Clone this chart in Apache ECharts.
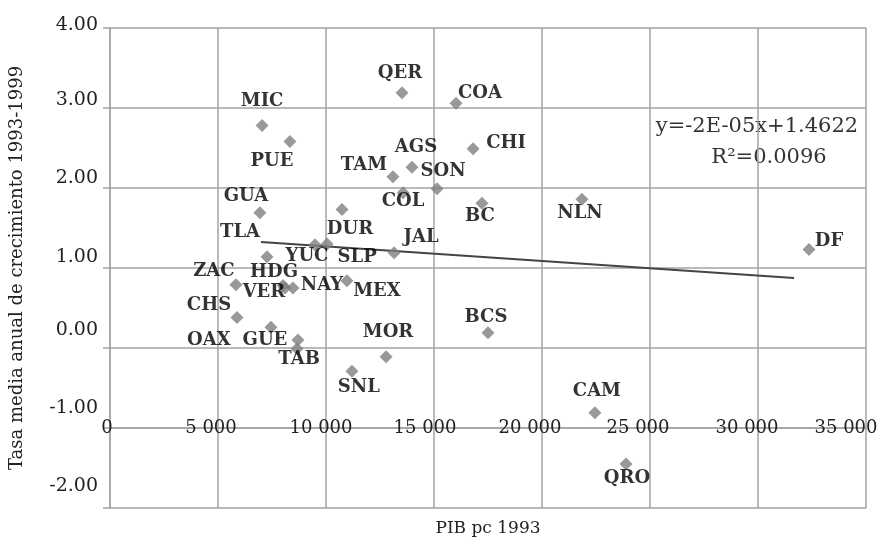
<!DOCTYPE html>
<html>
<head>
<meta charset="utf-8">
<script src="https://cdn.jsdelivr.net/npm/echarts@6/dist/echarts.min.js"></script>
<style>
  html, body { margin: 0; padding: 0; background: #fff; }
  #chart { width: 877px; height: 538px; }
</style>
</head>
<body>
<div id="chart"></div>
<script>
// estados y valores
const estados = ['MIC', 'PUE', 'GUA', 'TLA', 'YUC', 'SLP', 'DUR', 'ZAC', 'HDG', 'VER', 'NAY', 'MEX',
  'CHS', 'OAX', 'GUE', 'TAB', 'SNL', 'MOR', 'BCS', 'CAM', 'QRO', 'DF', 'NLN', 'QER',
  'COA', 'CHI', 'AGS', 'TAM', 'SON', 'COL', 'BC', 'JAL'];
const pib1993 = [7040, 8330, 6940, 7270, 9490, 10050, 10740, 5830, 8010, 8100, 8470, 10970,
  5880, 7450, 8700, 8660, 11200, 12780, 17500, 22450, 23890, 32360, 21850, 13520,
  16020, 16810, 13980, 13100, 15140, 13570, 17220, 13150];
const tasa9399 = [2.78, 2.58, 1.69, 1.14, 1.29, 1.30, 1.73, 0.79, 0.78, 0.75, 0.75, 0.84,
  0.38, 0.26, 0.10, -0.01, -0.29, -0.11, 0.19, -0.81, -1.45, 1.23, 1.86, 3.19,
  3.06, 2.49, 2.26, 2.14, 1.99, 1.94, 1.81, 1.19];

// linea de tendencia (extremos leidos)
const tendenciaX = [6990, 31670];
const tendenciaY = [1.325, 0.875];

const yTicks = ['-2.00', '-1.00', '0.00', '1.00', '2.00', '3.00', '4.00'];
const xTicks = ['0', '5 000', '10 000', '15 000', '20 000', '25 000', '30 000', '35 000'];

// posicion de cada etiqueta respecto al rombo (px)
const etiquetaOffset = {
  MIC: [0, -24], PUE: [-18, 20], GUA: [-14, -16], TLA: [-27, -24], YUC: [-8, 12], SLP: [30, 13],
  DUR: [8, 20], ZAC: [-22, -13], HDG: [-9, -13], VER: [-21, 4], NAY: [29, -3], MEX: [30, 11],
  CHS: [-28, -12], OAX: [-62, 13], GUE: [-33, 0], TAB: [2, 11], SNL: [7, 16], MOR: [2, -24],
  BCS: [-2, -15], CAM: [2, -21], QRO: [1, 14], DF: [20, -8], NLN: [-2, 14], QER: [-2, -19],
  COA: [24, -10], CHI: [33, -5], AGS: [4, -20], TAM: [-29, -11], SON: [6, -17], COL: [0, 9],
  BC: [-2, 13], JAL: [27, -15]
};
// las etiquetas de los ejes no caen justo en las lineas (px)
const ySubida = [22, 20, 18, 11, 10, 8, 3];
const xIzq = [3, 7, 5, 9, 12, 12, 11, 20];

const chart = echarts.init(document.getElementById('chart'));

const puntos = estados.map((e, i) => ({
  name: e,
  value: [pib1993[i], tasa9399[i]],
  label: { offset: etiquetaOffset[e] }
}));

const richY = {};
ySubida.forEach((s, i) => {
  richY['t' + i] = { fontFamily: 'DejaVu Serif', fontSize: 19, color: '#222', padding: [0, 0, 2 * s, 0] };
});
const richX = {};
xIzq.forEach((s, i) => {
  richX['t' + i] = { fontFamily: 'DejaVu Serif', fontSize: 18, color: '#222', padding: [0, 2 * s, 0, 0] };
});

const gris = '#a3a3a3';

const option = {
  animation: false,
  backgroundColor: '#fff',
  textStyle: { fontFamily: 'DejaVu Serif' },
  grid: { left: 110, right: 11, top: 28, bottom: 30, containLabel: false, outerBoundsMode: 'none' },
  xAxis: {
    type: 'value',
    min: 0,
    max: 35000,
    interval: 5000,
    position: 'bottom',
    offset: -80,
    name: 'PIB pc 1993',
    nameLocation: 'middle',
    nameGap: 92,
    nameTextStyle: { fontFamily: 'DejaVu Serif', fontSize: 17, color: '#222' },
    axisLine: { onZero: false, lineStyle: { color: gris, width: 1.5 } },
    axisTick: { show: false },
    axisLabel: {
      margin: 0,
      verticalAlign: 'middle',
      formatter: (v, i) => '{t' + i + '|' + xTicks[i] + '}',
      rich: richX
    },
    splitLine: { show: true, lineStyle: { color: gris, width: 1.5 } }
  },
  yAxis: {
    type: 'value',
    min: -2,
    max: 4,
    interval: 1,
    name: 'Tasa media anual de crecimiento 1993-1999',
    nameLocation: 'middle',
    nameRotate: 90,
    nameGap: 84,
    nameTextStyle: { fontFamily: 'DejaVu Serif', fontSize: 18, color: '#222' },
    axisLine: { show: true, onZero: false, lineStyle: { color: gris, width: 1.5 } },
    axisTick: { show: true, inside: false, length: 7, lineStyle: { color: gris, width: 1.5 } },
    axisLabel: {
      margin: 12,
      formatter: (v, i) => '{t' + i + '|' + yTicks[i] + '}',
      rich: richY
    },
    splitLine: { show: true, lineStyle: { color: gris, width: 1.5 } }
  },
  graphic: [
    {
      type: 'text',
      x: 757,
      y: 127,
      style: {
        text: 'y=-2E-05x+1.4622',
        font: '21px "DejaVu Serif"',
        fill: '#333',
        align: 'center',
        verticalAlign: 'middle'
      }
    },
    {
      type: 'text',
      x: 769,
      y: 158,
      style: {
        text: 'R²=0.0096',
        font: '21px "DejaVu Serif"',
        fill: '#333',
        align: 'center',
        verticalAlign: 'middle'
      }
    }
  ],
  series: [
    {
      type: 'line',
      data: tendenciaX.map((x, i) => [x, tendenciaY[i]]),
      symbol: 'none',
      lineStyle: { color: '#444', width: 2 },
      z: 3
    },
    {
      type: 'scatter',
      symbol: 'diamond',
      symbolSize: 13,
      itemStyle: { color: '#7f7f7f' },
      label: {
        show: true,
        position: 'inside',
        formatter: '{b}',
        fontFamily: 'DejaVu Serif',
        fontWeight: 'bold',
        fontSize: 18,
        color: '#000',
        textBorderWidth: 0
      },
      data: puntos,
      z: 4
    }
  ]
};

chart.setOption(option);
</script>
</body>
</html>
